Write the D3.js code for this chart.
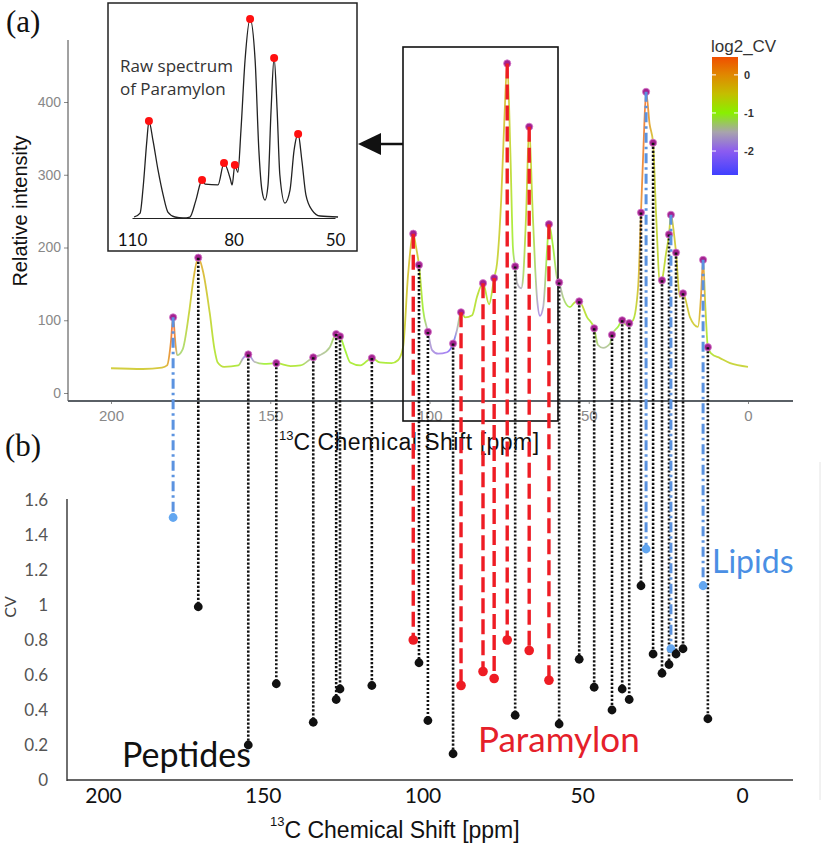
<!DOCTYPE html>
<html><head><meta charset="utf-8">
<script src="https://cdn.jsdelivr.net/npm/d3@7"></script>
<style>body{margin:0;background:#fff}svg{display:block}</style>
</head><body>
<svg id="c" width="826" height="843"></svg>
<script>
// ---------- data ----------
// Main 13C spectrum (panel a): chemical shift, relative intensity, log2 CV (line colour)
const specPpm = [200,190,184,182.4,181.2,180.5,179.8,179.2,177.5,175.5,174,172.6,171,169,167.5,166.5,164.5,160,158.5,156.9,155,152,148.1,143.6,140.5,136.5,134.4,131.3,129.3,128.1,126.5,124.9,121.7,118.1,115.6,111.9,109.9,108.3,106.7,105.1,104.2,103.3,102,100.5,99.2,97.3,94.5,92.6,91.4,90.1,88.8,86.6,85.1,83.2,81.3,79.7,78.8,77.5,76.5,75.6,74.6,73.8,73.1,72.5,71.2,70.6,69.7,68.7,67.7,66.8,66.2,65.3,64.3,63.1,62.5,61.2,60.0,59.3,58.1,55.9,54.3,53.0,50.5,48.3,47.1,45.5,43.3,42.7,40.8,39.5,38.4,37.3,36.1,34.5,33.6,32.8,32.0,30.9,29.8,28.9,27.6,27.0,25.8,24.8,24.2,23.4,22.6,21.4,20.4,18.2,15.7,14.8,14.1,13.4,12.6,11.5,8.8,5.6,0];
const specInt = [34,33,35,38,70,104,70,52,60,110,160,186,165,110,60,42,36,38,48,53,43,40,41,37,38,49,52,63,81,78,59,42,38,48,42,41,45,63,164,219,200,176,114,84,59,54,56,68,86,111,104,107,132,151,122,158,178,265,375,453,330,200,174,151,144,159,242,366,260,170,128,106,118,196,232,201,159,152,132,118,125,126,104,89,66,62,68,80,91,100,94,96,100,146,248,340,414,370,344,250,151,155,190,218,245,225,193,132,137,104,91,130,183,120,63,54,48,41,36];
const specLog2CV = [-0.5,-0.5,-0.4,-0.2,0.3,0.58,0.2,-1.3,-1.2,-0.6,-0.3,-0.02,-0.3,-0.6,-0.8,-0.8,-0.7,-0.9,-1.8,-2.3,-1.5,-1.0,-0.9,-0.8,-0.9,-1.6,-1.4,-1.3,-1.1,-0.95,-1.0,-0.9,-0.9,-0.9,-0.9,-0.9,-0.8,-0.6,-0.4,-0.32,-0.4,-0.58,-1.0,-1.56,-1.8,-1.9,-2.0,-2.7,-1.6,-0.89,-0.8,-0.8,-0.75,-0.69,-0.8,-0.79,-0.6,-0.5,-0.4,-0.32,-0.6,-1.0,-1.43,-1.5,-1.6,-1.2,-0.7,-0.43,-0.7,-1.2,-1.6,-2.0,-1.6,-1.0,-0.81,-1.0,-1.3,-1.64,-1.3,-1.0,-0.7,-0.54,-0.8,-0.92,-1.3,-1.4,-1.3,-1.32,-1.0,-0.94,-1.0,-1.12,-0.9,-0.4,0.15,0.3,0.4,0.0,-0.47,-0.6,-0.7,-0.71,-0.65,-0.6,-0.41,-0.45,-0.47,-0.5,-0.41,-0.5,-0.5,0.0,0.15,-0.5,-1.0,-0.8,-0.6,-0.6,-0.6];

// Picked peaks: shift, intensity (panel a), CV (panel b), assignment
const peakPpm = [180.5,172.6,156.9,148.1,136.5,129.3,128.1,118.1,105.1,103.3,100.5,92.6,90.1,83.2,79.7,75.6,73.1,68.7,62.5,59.3,53.0,48.3,42.7,39.5,37.3,33.6,32.0,29.8,27.0,24.8,24.2,22.6,20.4,14.1,12.6];
const peakInt = [104,186,53,41,49,81,78,48,219,176,84,68,111,151,158,453,174,366,232,152,126,89,80,100,96,248,414,344,155,218,245,193,137,183,63];
const peakCV  = [1.50,0.99,0.20,0.55,0.33,0.46,0.52,0.54,0.80,0.67,0.34,0.15,0.54,0.62,0.58,0.80,0.37,0.74,0.57,0.32,0.69,0.53,0.40,0.52,0.46,1.11,1.32,0.72,0.61,0.66,0.75,0.72,0.75,1.11,0.35];
const peakGroup = ["Lipids","Peptides","Peptides","Peptides","Peptides","Peptides","Peptides","Peptides","Paramylon","Peptides","Peptides","Peptides","Paramylon","Paramylon","Paramylon","Paramylon","Peptides","Paramylon","Paramylon","Peptides","Peptides","Peptides","Peptides","Peptides","Peptides","Peptides","Lipids","Peptides","Peptides","Peptides","Lipids","Peptides","Peptides","Lipids","Peptides"];

// Inset: raw spectrum of paramylon
const insetPpm = [109.4,107.6,106.7,105.6,105.0,103.8,102.3,100.8,99.4,97.3,94.9,92.9,91.1,89.3,88.4,84.6,82.8,81.0,80.4,79.6,78.7,77.8,76.6,75.1,73.6,72.5,71.6,70.7,69.8,68.9,68.0,67.1,66.3,64.8,63.3,62.1,60.9,59.8,58.6,56.8,54.4,49.1];
const insetInt = [0.5,2.5,15.6,39,48.7,39,24,11.6,3,0.5,0,0.5,9,19.1,17,16.6,27.6,20,16.6,26.6,23,44,79,100,79,34,14,9,16.6,54,80.4,54,21.6,7.5,14,34,42.2,29,11.6,4,1,0.5];
const insetPeakPpm = [105.0,89.3,82.8,79.6,75.1,68.0,60.9];
const insetPeakInt = [48.7,19.1,27.6,26.6,100,80.4,42.2];

const ppmTicks = [200,150,100,50,0];
const intTicks = [0,100,200,300,400];
const cvTicks = [0,0.2,0.4,0.6,0.8,1,1.2,1.4,1.6];
const insetTicks = [110,80,50];
const legendTicks = [0,-1,-2];

// ---------- scales ----------
const svg = d3.select("#c");
const defs = svg.append("defs");
const xA = d3.scaleLinear().domain([200,0]).range([111,748]);
const yA = d3.scaleLinear().domain([0,400]).range([393,102]);
const xB = d3.scaleLinear().domain([200,0]).range([103,742]);
const yB = d3.scaleLinear().domain([0,1.6]).range([780,500]);
const xI = d3.scaleLinear().domain([110,50]).range([132,335]);
const yI = d3.scaleLinear().domain([0,100]).range([218,19]);
const color = d3.scaleLinear()
  .domain([0.47,0,-0.5,-1,-1.5,-2,-2.63])
  .range(["#f04e00","#e08800","#c4be00","#88f000","#a8a4ac","#8c5cf0","#4040ff"]);
const yLeg = d3.scaleLinear().domain([0.47,-2.63]).range([57,175]);

const SANS = "'Liberation Sans', Arial, sans-serif";
const HUM = "Lato, 'Open Sans', sans-serif";

// faint right rule
svg.append("line").attr("x1",820).attr("x2",820).attr("y1",462).attr("y2",800).attr("stroke","#e4e4e4").attr("stroke-width",1);

// ---------- panel a axes ----------
const gYA = svg.append("g").attr("transform","translate(68,0)")
  .call(d3.axisLeft(yA).tickValues(intTicks).tickSize(4).tickPadding(3));
gYA.select(".domain").remove();
gYA.selectAll("line").attr("stroke","#888");
gYA.selectAll("text").attr("fill","#888").attr("font-family",SANS).attr("font-size",14);
svg.append("line").attr("x1",68).attr("x2",68).attr("y1",40).attr("y2",401).attr("stroke","#444").attr("stroke-width",1);

const gXA = svg.append("g").attr("transform","translate(0,401)")
  .call(d3.axisBottom(xA).tickValues(ppmTicks).tickSize(3).tickPadding(6));
gXA.select(".domain").remove();
gXA.selectAll("line").attr("stroke","#888");
gXA.selectAll("text").attr("fill","#888").attr("font-family",SANS).attr("font-size",15);
svg.append("line").attr("x1",68).attr("x2",793).attr("y1",401).attr("y2",401).attr("stroke","#5a6066").attr("stroke-width",2);

svg.append("text").attr("transform","translate(27,211) rotate(-90)").attr("text-anchor","middle")
  .attr("font-family",SANS).attr("font-size",20).attr("fill","#111").text("Relative intensity");

const tA = svg.append("text").attr("x",279).attr("y",450).attr("font-family",SANS).attr("fill","#111");
tA.append("tspan").attr("font-size",13).attr("dy",-10).text("13");
tA.append("tspan").attr("font-size",23).attr("dy",10).attr("letter-spacing",0.5).text("C Chemical Shift [ppm]");

// ---------- spectrum line ----------
const grad = defs.append("linearGradient").attr("id","specGrad").attr("gradientUnits","userSpaceOnUse")
  .attr("x1",xA(200)).attr("x2",xA(0)).attr("y1",0).attr("y2",0);
const span = xA(0)-xA(200);
specPpm.forEach((p,i)=>{
  grad.append("stop").attr("offset",((xA(p)-xA(200))/span).toFixed(4)).attr("stop-color",color(specLog2CV[i]));
});
const specLine = d3.line().x(i=>xA(specPpm[i])).y(i=>yA(specInt[i])).curve(d3.curveMonotoneX);
svg.append("path").attr("d",specLine(d3.range(specPpm.length)))
  .attr("fill","none").attr("stroke","url(#specGrad)").attr("stroke-width",1.8).attr("stroke-opacity",0.75);

// ---------- panel b axes ----------
const gYB = svg.append("g").attr("transform","translate(67,0)")
  .call(d3.axisLeft(yB).tickValues(cvTicks).tickFormat(d=>String(d)).tickSize(0).tickPadding(19));
gYB.select(".domain").remove();
gYB.selectAll("text").attr("fill","#555").attr("font-family",HUM).attr("font-size",17);
svg.append("line").attr("x1",67).attr("x2",67).attr("y1",499).attr("y2",781).attr("stroke","#222").attr("stroke-width",1.3);

const gXB = svg.append("g").attr("transform","translate(0,780)")
  .call(d3.axisBottom(xB).tickValues(ppmTicks).tickSize(0).tickPadding(8));
gXB.select(".domain").remove();
gXB.selectAll("text").attr("fill","#111").attr("font-family",HUM).attr("font-size",21);
svg.append("line").attr("x1",67).attr("x2",793).attr("y1",780).attr("y2",780).attr("stroke","#333").attr("stroke-width",1.6);

svg.append("text").attr("transform","translate(16,607) rotate(-90)").attr("text-anchor","middle")
  .attr("font-family",HUM).attr("font-size",16).attr("fill","#444").text("CV");

const tB = svg.append("text").attr("x",270).attr("y",838).attr("font-family",SANS).attr("fill","#111");
tB.append("tspan").attr("font-size",13).attr("dy",-12).text("13");
tB.append("tspan").attr("font-size",23).attr("dy",12).text("C Chemical Shift [ppm]");

// ---------- inset ----------
svg.append("rect").attr("x",108).attr("y",3).attr("width",249).attr("height",248)
  .attr("fill","#fff").attr("stroke","#222").attr("stroke-width",1.5);
const gI = svg.append("g").attr("transform","translate(0,218)")
  .call(d3.axisBottom(xI).tickValues(insetTicks).tickSize(0).tickSizeOuter(0).tickPadding(16));
gI.select(".domain").attr("stroke","#222").attr("stroke-width",1.2);
gI.selectAll("text").attr("fill","#111").attr("font-family",HUM).attr("font-size",17);
const insetLine = d3.line().x(i=>xI(insetPpm[i])).y(i=>yI(insetInt[i])).curve(d3.curveMonotoneX);
svg.append("path").attr("d",insetLine(d3.range(insetPpm.length)))
  .attr("fill","none").attr("stroke","#222").attr("stroke-width",1.3);
svg.append("g").selectAll("circle").data(insetPeakPpm).join("circle")
  .attr("cx",(d)=>xI(d)).attr("cy",(d,i)=>yI(insetPeakInt[i])).attr("r",4).attr("fill","#ff1010");
const rt = svg.append("text").attr("font-family","'Open Sans', sans-serif").attr("font-size",17).attr("fill","#333");
rt.append("tspan").attr("x",120).attr("y",72).text("Raw spectrum");
rt.append("tspan").attr("x",120).attr("y",95).text("of Paramylon");

// highlight box + arrow
svg.append("rect").attr("x",403).attr("y",47).attr("width",155).attr("height",374)
  .attr("fill","none").attr("stroke","#111").attr("stroke-width",1.6);
svg.append("line").attr("x1",403).attr("x2",378).attr("y1",144).attr("y2",144).attr("stroke","#111").attr("stroke-width",2.5);
svg.append("path").attr("d","M358,144L381,133L381,155Z").attr("fill","#111");

// ---------- legend ----------
const lg = defs.append("linearGradient").attr("id","legGrad").attr("x1",0).attr("x2",0).attr("y1",0).attr("y2",1);
color.domain().forEach((v)=>{
  lg.append("stop").attr("offset",((yLeg(v)-57)/118).toFixed(4)).attr("stop-color",color(v));
});
svg.append("text").attr("x",711).attr("y",52).attr("font-family",SANS).attr("font-size",17).attr("fill","#333").text("log2_CV");
svg.append("rect").attr("x",712).attr("y",57).attr("width",26).attr("height",118).attr("fill","url(#legGrad)");
legendTicks.forEach(v=>{
  svg.append("line").attr("x1",712).attr("x2",716).attr("y1",yLeg(v)).attr("y2",yLeg(v)).attr("stroke","#fff").attr("stroke-width",1);
  svg.append("line").attr("x1",734).attr("x2",738).attr("y1",yLeg(v)).attr("y2",yLeg(v)).attr("stroke","#fff").attr("stroke-width",1);
  svg.append("text").attr("x",744).attr("y",yLeg(v)+4).attr("font-family",SANS).attr("font-size",11)
    .attr("font-weight","bold").attr("fill","#333").text(v===0?"0":String(v));
});

// ---------- peaks & connectors ----------
const idx = d3.range(peakPpm.length);
svg.append("g").selectAll("circle").data(idx).join("circle")
  .attr("cx",i=>xA(peakPpm[i])).attr("cy",i=>yA(peakInt[i])).attr("r",3.6)
  .attr("fill","#a3218f").attr("stroke","#d67acb").attr("stroke-width",0.8);

const style = {
  Peptides:{stroke:"#111", w:2.6, dash:"2.2,1.8"},
  Paramylon:{stroke:"#ee1c24", w:3.4, dash:"15,6"},
  Lipids:{stroke:"#5b93e0", w:3, dash:"10,4,2.5,4"}
};
svg.append("g").selectAll("line").data(idx).join("line")
  .attr("x1",i=>xA(peakPpm[i])).attr("x2",i=>xA(peakPpm[i]))
  .attr("y1",i=>yA(peakInt[i])).attr("y2",i=>yB(peakCV[i]))
  .attr("stroke",i=>style[peakGroup[i]].stroke)
  .attr("stroke-width",i=>style[peakGroup[i]].w)
  .attr("stroke-dasharray",i=>style[peakGroup[i]].dash);

const dotFill = {Peptides:"#111", Paramylon:"#ee1c24", Lipids:"#62a6f0"};
const dotR = {Peptides:4.4, Paramylon:4.8, Lipids:4.4};
svg.append("g").selectAll("circle").data(idx).join("circle")
  .attr("cx",i=>xA(peakPpm[i])).attr("cy",i=>yB(peakCV[i]))
  .attr("r",i=>dotR[peakGroup[i]]).attr("fill",i=>dotFill[peakGroup[i]]);

// ---------- labels ----------
svg.append("text").attr("x",122).attr("y",767).attr("font-family",HUM).attr("font-size",34).attr("fill","#111").text("Peptides");
svg.append("text").attr("x",478).attr("y",752).attr("font-family",HUM).attr("font-size",35).attr("fill","#e5202a").text("Paramylon");
svg.append("text").attr("x",712).attr("y",573).attr("font-family",HUM).attr("font-size",32).attr("fill","#4a8fe4").text("Lipids");
svg.append("text").attr("x",6).attr("y",32).attr("font-family","'Liberation Serif', serif").attr("font-size",31).attr("fill","#111").text("(a)");
svg.append("text").attr("x",5).attr("y",456).attr("font-family","'Liberation Serif', serif").attr("font-size",31).attr("fill","#111").text("(b)");
</script>
</body></html>
